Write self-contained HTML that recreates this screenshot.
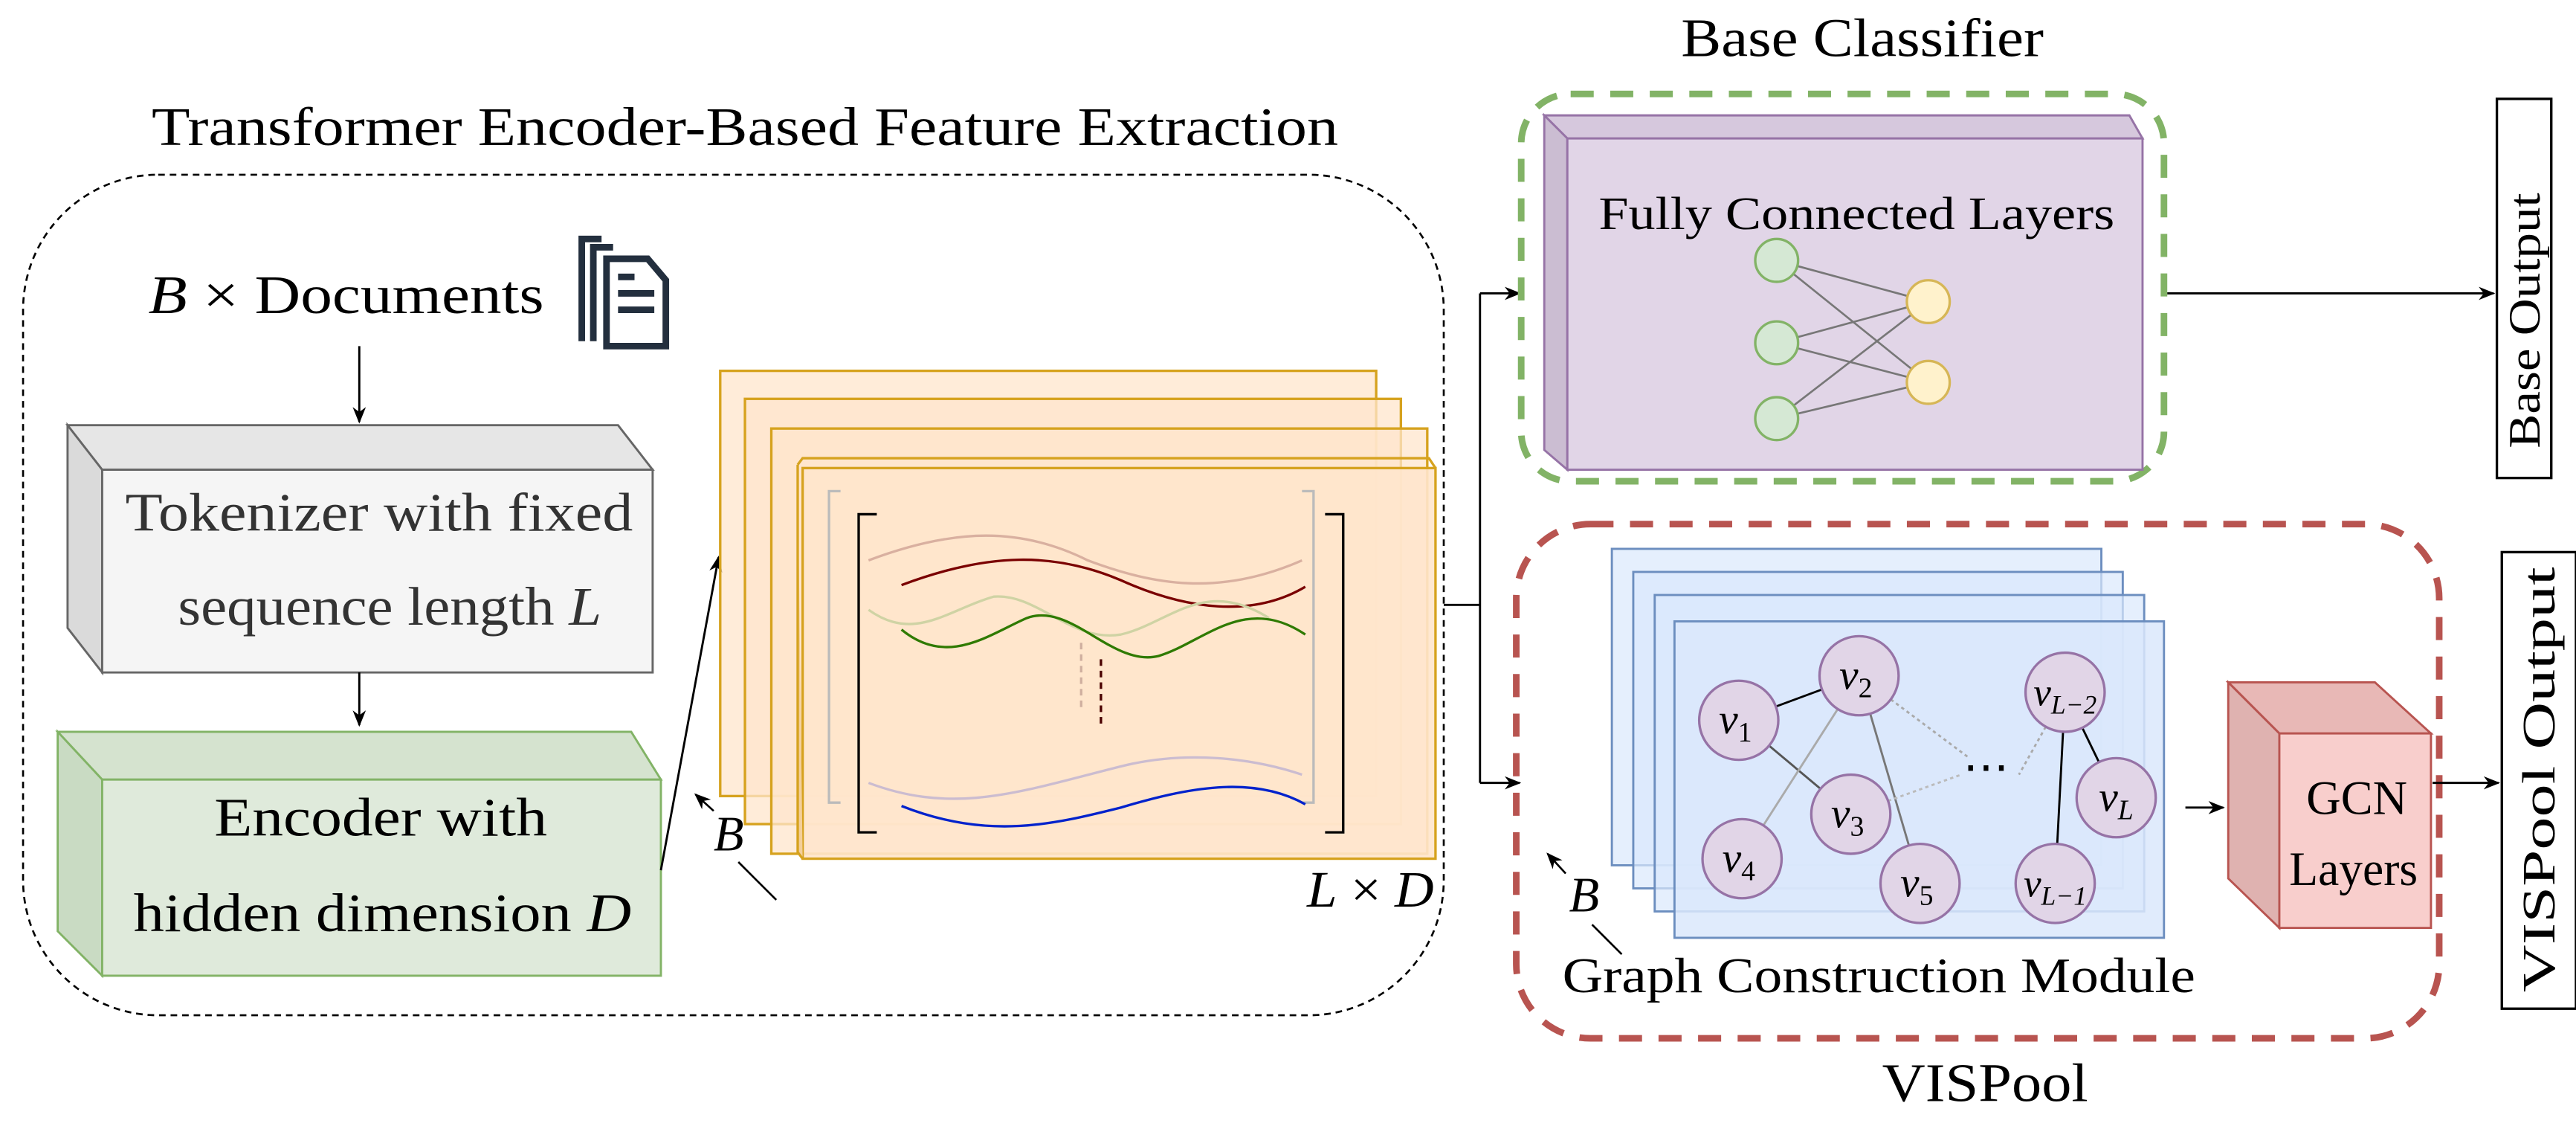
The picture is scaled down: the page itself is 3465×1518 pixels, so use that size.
<!DOCTYPE html>
<html><head><meta charset="utf-8"><style>
html,body{margin:0;padding:0;background:#fff;}
svg{display:block;}
</style></head><body>
<svg width="3465" height="1518" viewBox="0 0 1563 685" preserveAspectRatio="none" xmlns="http://www.w3.org/2000/svg" font-family="'Liberation Serif', 'DejaVu Serif', serif">
<defs>
<marker id="ah" markerWidth="10" markerHeight="10" refX="9" refY="5" orient="auto" markerUnits="userSpaceOnUse"><path d="M0,1 L10,5 L0,9 L3,5 Z" fill="#000"/></marker>
</defs>

<text x="92" y="88" font-size="33" textLength="720" lengthAdjust="spacingAndGlyphs">Transformer Encoder-Based Feature Extraction</text>
<rect x="14" y="106" width="862" height="510" rx="82" fill="none" stroke="#000" stroke-width="1.2" stroke-dasharray="4,3"/>

<text x="90" y="190" font-size="33" textLength="240" lengthAdjust="spacingAndGlyphs"><tspan font-style="italic">B</tspan> × Documents</text>
<g fill="none" stroke="#232f3e" stroke-width="4">
<path d="M353,207 V145 H365"/><path d="M360,207 V150 H372"/>
<path d="M368,210 V157 H393 L404,170 V210 Z"/>
<path d="M375,168 H385 M375,178 H397 M375,188 H397"/>
</g>
<line x1="218" y1="210" x2="218" y2="256" stroke="#000" stroke-width="1.3" marker-end="url(#ah)"/>

<g stroke="#666" stroke-width="1.3">
<path d="M41,258 L375,258 L396,285 L62,285 Z" fill="#e6e6e6"/>
<path d="M41,258 L62,285 L62,408 L41,381 Z" fill="#dadada"/>
<rect x="62" y="285" width="334" height="123" fill="#f5f5f5"/>
</g>
<text x="76" y="322" font-size="33" fill="#333" textLength="308" lengthAdjust="spacingAndGlyphs">Tokenizer with fixed</text>
<text x="108" y="379" font-size="33" fill="#333" textLength="257" lengthAdjust="spacingAndGlyphs">sequence length <tspan font-style="italic">L</tspan></text>
<line x1="218" y1="408" x2="218" y2="440" stroke="#000" stroke-width="1.3" marker-end="url(#ah)"/>

<g stroke="#82b366" stroke-width="1.3">
<path d="M35,444 L383,444 L401,473 L62,473 Z" fill="#d5e3cf"/>
<path d="M35,444 L62,473 L62,592 L35,565 Z" fill="#c9dbc3"/>
<rect x="62" y="473" width="339" height="119" fill="#dfeadb"/>
</g>
<text x="130" y="507" font-size="33" textLength="202" lengthAdjust="spacingAndGlyphs">Encoder with</text>
<text x="81" y="565" font-size="33" textLength="302" lengthAdjust="spacingAndGlyphs">hidden dimension <tspan font-style="italic">D</tspan></text>
<line x1="401" y1="528" x2="436" y2="338" stroke="#000" stroke-width="1.3" marker-end="url(#ah)"/>

<g stroke="#d6a21e" stroke-width="1.5">
<rect x="437" y="225" width="398" height="258" fill="#ffe6cc" fill-opacity="0.75"/>
<rect x="452" y="242" width="398" height="258" fill="#ffe6cc" fill-opacity="0.75"/>
<rect x="468" y="260" width="398" height="258" fill="#ffe6cc" fill-opacity="0.75"/>
<path d="M484,282 L487,278 L867,278 L871,284" fill="none"/>
<rect x="487" y="284" width="384" height="237" fill="#ffe6cc" fill-opacity="0.9"/>
<path d="M484,282 V517 L487,521" fill="#f3cf9a"/>
</g>
<g fill="none" stroke-width="1.5">
<path d="M532,312 H521 V505 H532 M804,312 H815 V505 H804" stroke="#000"/>
<path d="M510,298 H503 V487 H510 M790,298 H797 V487 H790" stroke="#bbb"/>
<path d="M527,340 C580,320 620,320 660,340 C700,355 740,362 790,340" stroke="#d9b0a0"/>
<path d="M547,355 C600,335 640,335 680,352 C720,370 760,375 792,356" stroke="#7a0000"/>
<path d="M527,370 C555,390 575,370 603,362 C630,360 650,390 680,385 C710,378 730,350 770,375" stroke="#cfd3a4"/>
<path d="M547,382 C575,405 600,385 623,375 C650,365 675,405 703,398 C730,390 755,360 792,385" stroke="#2f7a00"/>
<path d="M527,475 C580,495 620,480 680,465 C720,455 760,460 790,470" stroke="#cbbcd0"/>
<path d="M547,489 C600,510 640,500 680,490 C720,478 760,470 792,488" stroke="#0022cc"/>
<path d="M668,400 V442" stroke="#4a0000" stroke-dasharray="4,3"/>
<path d="M656,390 V430" stroke="#d0b0a0" stroke-dasharray="4,3"/>
</g>
<text x="433" y="516" font-size="30" font-style="italic">B</text>
<line x1="448" y1="523" x2="471" y2="546" stroke="#000" stroke-width="1.2"/>
<line x1="433" y1="492" x2="422" y2="482" stroke="#000" stroke-width="1.2" marker-end="url(#ah)"/>
<text x="793" y="550" font-size="31" textLength="77" lengthAdjust="spacingAndGlyphs"><tspan font-style="italic">L</tspan> × <tspan font-style="italic">D</tspan></text>

<path d="M876,367 H898 V178 M898,367 V475" fill="none" stroke="#000" stroke-width="1.3"/>
<line x1="898" y1="178" x2="922" y2="178" stroke="#000" stroke-width="1.3" marker-end="url(#ah)"/>
<line x1="898" y1="475" x2="922" y2="475" stroke="#000" stroke-width="1.3" marker-end="url(#ah)"/>

<text x="1020" y="34" font-size="33" textLength="220" lengthAdjust="spacingAndGlyphs">Base Classifier</text>
<rect x="923" y="57" width="390" height="235" rx="30" fill="none" stroke="#82b366" stroke-width="4" stroke-dasharray="14,10"/>
<g stroke="#9673a6" stroke-width="1.3">
<path d="M937,70 L1292,70 L1300,84 L951,84 Z" fill="#d6c8dd"/>
<path d="M937,70 L951,84 L951,285 L937,273 Z" fill="#cbbdd2"/>
<rect x="951" y="84" width="349" height="201" fill="#e1d5e7"/>
</g>
<text x="970" y="139" font-size="28" textLength="313" lengthAdjust="spacingAndGlyphs">Fully Connected Layers</text>
<g stroke="#777" stroke-width="1.2">
<line x1="1078" y1="158" x2="1170" y2="183"/><line x1="1078" y1="158" x2="1170" y2="232"/>
<line x1="1078" y1="208" x2="1170" y2="183"/><line x1="1078" y1="208" x2="1170" y2="232"/>
<line x1="1078" y1="254" x2="1170" y2="183"/><line x1="1078" y1="254" x2="1170" y2="232"/>
</g>
<g stroke-width="1.5">
<circle cx="1078" cy="158" r="13" fill="#d5e8d4" stroke="#82b366"/>
<circle cx="1078" cy="208" r="13" fill="#d5e8d4" stroke="#82b366"/>
<circle cx="1078" cy="254" r="13" fill="#d5e8d4" stroke="#82b366"/>
<circle cx="1170" cy="183" r="13" fill="#fff2cc" stroke="#d6b656"/>
<circle cx="1170" cy="232" r="13" fill="#fff2cc" stroke="#d6b656"/>
</g>
<line x1="1315" y1="178" x2="1513" y2="178" stroke="#000" stroke-width="1.3" marker-end="url(#ah)"/>
<rect x="1515" y="60" width="33" height="230" fill="#fff" stroke="#000" stroke-width="1.5"/>
<text transform="translate(1541,272) rotate(-90)" font-size="27" textLength="155" lengthAdjust="spacingAndGlyphs">Base Output</text>

<rect x="920" y="318" width="560" height="312" rx="45" fill="none" stroke="#b85450" stroke-width="4" stroke-dasharray="14,10"/>
<g stroke="#6c8ebf" stroke-width="1.3">
<rect x="978" y="333" width="297" height="192" fill="#dae8fc" fill-opacity="0.7"/>
<rect x="991" y="347" width="297" height="192" fill="#dae8fc" fill-opacity="0.7"/>
<rect x="1004" y="361" width="297" height="192" fill="#dae8fc" fill-opacity="0.7"/>
<rect x="1016" y="377" width="297" height="192" fill="#dae8fc" fill-opacity="0.85"/>
</g>
<g stroke-width="1.3" fill="none">
<line x1="1055" y1="437" x2="1128" y2="410" stroke="#000"/>
<line x1="1055" y1="437" x2="1123" y2="494" stroke="#555"/>
<line x1="1128" y1="410" x2="1165" y2="536" stroke="#777"/>
<line x1="1128" y1="410" x2="1057" y2="521" stroke="#aaa"/>
<line x1="1253" y1="420" x2="1284" y2="484" stroke="#000"/>
<line x1="1253" y1="420" x2="1247" y2="536" stroke="#000"/>
<line x1="1128" y1="410" x2="1195" y2="460" stroke="#aaa" stroke-dasharray="2,2"/>
<line x1="1123" y1="494" x2="1190" y2="470" stroke="#bbb" stroke-dasharray="2,2"/>
<line x1="1253" y1="420" x2="1225" y2="470" stroke="#aaa" stroke-dasharray="2,2"/>
</g>
<g fill="#e1d5e7" stroke="#9673a6" stroke-width="1.5">
<circle cx="1055" cy="437" r="24"/><circle cx="1128" cy="410" r="24"/>
<circle cx="1123" cy="494" r="24"/><circle cx="1057" cy="521" r="24"/>
<circle cx="1165" cy="536" r="24"/><circle cx="1253" cy="420" r="24"/>
<circle cx="1284" cy="484" r="24"/><circle cx="1247" cy="536" r="24"/>
</g>
<g font-style="italic" font-size="26" text-anchor="middle">
<text x="1053" y="445">v<tspan font-size="17" font-style="normal" dy="5">1</tspan></text>
<text x="1126" y="418">v<tspan font-size="17" font-style="normal" dy="5">2</tspan></text>
<text x="1121" y="502">v<tspan font-size="17" font-style="normal" dy="5">3</tspan></text>
<text x="1055" y="529">v<tspan font-size="17" font-style="normal" dy="5">4</tspan></text>
<text x="1163" y="544">v<tspan font-size="17" font-style="normal" dy="5">5</tspan></text>
<text x="1253" y="428" font-size="24">v<tspan font-size="16" dy="5">L−2</tspan></text>
<text x="1284" y="492">v<tspan font-size="17" dy="5">L</tspan></text>
<text x="1247" y="544" font-size="24">v<tspan font-size="16" dy="5">L−1</tspan></text>
</g>
<text x="1205" y="475" font-size="28" text-anchor="middle">⋯</text>
<line x1="1326" y1="490" x2="1349" y2="490" stroke="#000" stroke-width="1.3" marker-end="url(#ah)"/>
<text x="952" y="553" font-size="30" font-style="italic">B</text>
<line x1="966" y1="561" x2="984" y2="579" stroke="#000" stroke-width="1.2"/>
<line x1="950" y1="530" x2="939" y2="518" stroke="#000" stroke-width="1.2" marker-end="url(#ah)"/>
<text x="948" y="602" font-size="30" textLength="384" lengthAdjust="spacingAndGlyphs">Graph Construction Module</text>

<g stroke="#b85450" stroke-width="1.3">
<path d="M1352,414 L1441,414 L1475,445 L1383,445 Z" fill="#e8b8b6"/>
<path d="M1352,414 L1383,445 L1383,563 L1352,533 Z" fill="#dfb2b0"/>
<rect x="1383" y="445" width="92" height="118" fill="#f8cecc"/>
</g>
<text x="1430" y="494" font-size="29" text-anchor="middle">GCN</text>
<text x="1389" y="537" font-size="29" textLength="78" lengthAdjust="spacingAndGlyphs">Layers</text>
<line x1="1476" y1="475" x2="1516" y2="475" stroke="#000" stroke-width="1.3" marker-end="url(#ah)"/>
<rect x="1518" y="335" width="45" height="277" fill="#fff" stroke="#000" stroke-width="1.5"/>
<text transform="translate(1550,602) rotate(-90)" font-size="28" textLength="258" lengthAdjust="spacingAndGlyphs">VISPool Output</text>
<text x="1142" y="668" font-size="33" textLength="125" lengthAdjust="spacingAndGlyphs">VISPool</text>
</svg>
</body></html>
